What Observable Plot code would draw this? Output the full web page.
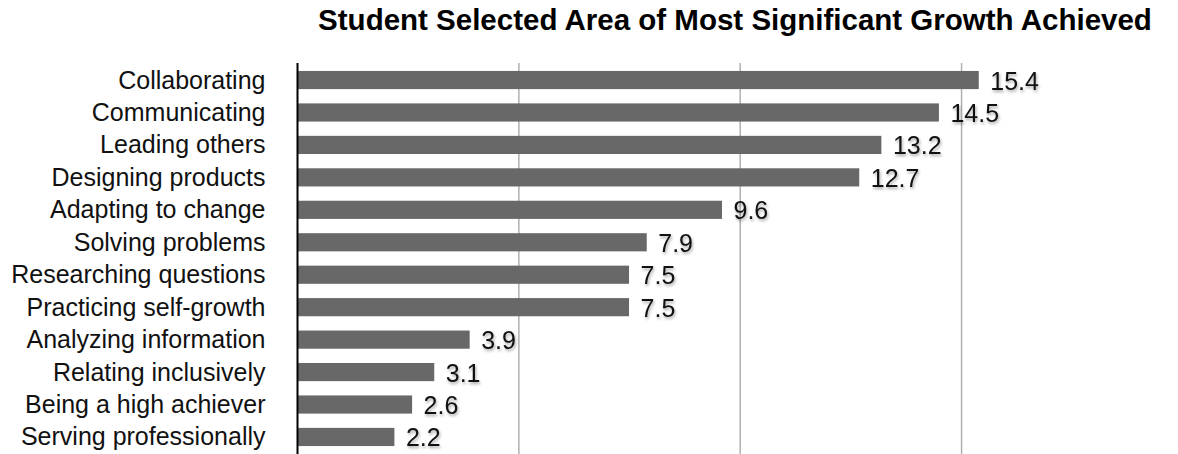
<!DOCTYPE html>
<html>
<head>
<meta charset="utf-8">
<script src="https://cdn.jsdelivr.net/npm/d3@7"></script>
<script src="https://cdn.jsdelivr.net/npm/@observablehq/plot@0.6"></script>
<style>
  body { margin: 0; background: #fff; }
  #wrap { position: relative; width: 1178px; height: 454px; }
  #title {
    position: absolute; left: 280px; width: 910px; top: 3px;
    text-align: center; color: #000; white-space: nowrap;
    font: bold 29.5px "Liberation Sans", Arial, Helvetica, sans-serif;
  }
  #wrap svg { position: absolute; left: 0; top: 0; }
</style>
</head>
<body>
<div id="wrap">
  <div id="title">Student Selected Area of Most Significant Growth Achieved</div>
</div>
<script>
// Growth areas, top to bottom
const areas = [
  "Collaborating",
  "Communicating",
  "Leading others",
  "Designing products",
  "Adapting to change",
  "Solving problems",
  "Researching questions",
  "Practicing self-growth",
  "Analyzing information",
  "Relating inclusively",
  "Being a high achiever",
  "Serving professionally"
];

// Share of students (%) choosing each area
const percents = [15.4, 14.5, 13.2, 12.7, 9.6, 7.9, 7.5, 7.5, 3.9, 3.1, 2.6, 2.2];

// Vertical gridlines
const gridTicks = [5, 10, 15];

const rows = areas.map((area, i) => ({ area, pct: percents[i] }));

const chart = Plot.plot({
  width: 1178,
  height: 454,
  marginTop: 63,
  marginBottom: 0,
  marginLeft: 297,
  marginRight: 0,
  style: {
    fontFamily: '"Liberation Sans", Arial, Helvetica, sans-serif',
    fontSize: "25px",
    color: "#111",
    background: "transparent"
  },
  x: { domain: [0, 19.9], axis: null },
  y: {
    domain: areas, paddingInner: 0.44, paddingOuter: 0.245, round: false,
    label: null, tickSize: 0, tickPadding: 32
  },
  marks: [
    Plot.ruleX(gridTicks, { stroke: "#b0b0b0", strokeWidth: 1.5 }),
    Plot.barX(rows, { x: "pct", y: "area", fill: "#686868" }),
    Plot.text(rows, {
      x: "pct", y: "area",
      text: d => d.pct.toFixed(1),
      textAnchor: "start", dx: 11, dy: 1,
      fontSize: 25, fill: "#111"
    }),
    Plot.ruleX([0], { stroke: "#000", strokeWidth: 2 })
  ]
});

// soft drop shadow behind the value labels
chart.querySelectorAll('g[aria-label="text"]').forEach(g => {
  g.style.filter = "drop-shadow(1px 2px 1.5px rgba(0,0,0,0.35))";
});

document.getElementById("wrap").appendChild(chart);
</script>
</body>
</html>
